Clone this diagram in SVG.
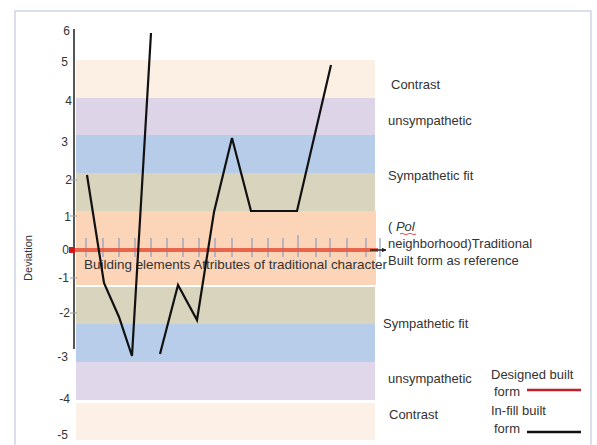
<svg xmlns="http://www.w3.org/2000/svg" width="597" height="445" viewBox="0 0 597 445">
<defs>
<style>
text{font-family:"Liberation Sans","Open Sans",sans-serif;fill:#333;}
.num{font-size:12px;text-anchor:end;}
.lbl{font-size:13px;}
.tick{stroke:#8a9cc4;stroke-width:1.2;}
.ink{fill:none;stroke:#111;stroke-width:2.2;stroke-linejoin:miter;}
</style>
<marker id="arr" viewBox="0 0 10 10" refX="9" refY="5" markerWidth="3" markerHeight="3" orient="auto"><path d="M0,0 L10,5 L0,10 z" fill="#222"/></marker>
</defs>
<rect width="597" height="445" fill="#fff"/>
<path d="M15,445 V11 H591 V445" fill="none" stroke="#cdd6e6" stroke-width="1.5"/>
<g id="bands">
<rect x="76" y="60" width="299" height="38" fill="#fcefe4"/>
<rect x="76" y="98" width="299" height="37" fill="#ddd4e8"/>
<rect x="76" y="135" width="299" height="38" fill="#b7cce8"/>
<rect x="76" y="173" width="299" height="38" fill="#d8d4be"/>
<rect x="76" y="211" width="300" height="74" fill="#fcd5b8"/>
<rect x="76" y="287" width="299" height="37" fill="#d8d4be"/>
<rect x="76" y="324" width="299" height="38" fill="#b7cde9"/>
<rect x="76" y="362" width="299" height="38" fill="#e0d7ea"/>
<rect x="76" y="403" width="299" height="37" fill="#fdf0e6"/>
</g>
<g id="yaxis">
<line x1="74" y1="29" x2="74" y2="349" stroke="#555" stroke-width="2"/>
<g stroke="#999" stroke-width="1">
<line x1="70" y1="180" x2="77" y2="180"/><line x1="70" y1="216" x2="77" y2="216"/><line x1="70" y1="278" x2="77" y2="278"/><line x1="70" y1="313" x2="77" y2="313"/>
</g>
<text class="num" x="70" y="35">6</text>
<text class="num" x="68" y="66">5</text>
<text class="num" x="72" y="105">4</text>
<text class="num" x="68" y="146">3</text>
<text class="num" x="72" y="184">2</text>
<text class="num" x="71" y="221">1</text>
<text class="num" x="69" y="254">0</text>
<text class="num" x="69" y="282">-1</text>
<text class="num" x="70" y="317">-2</text>
<text class="num" x="68" y="361">-3</text>
<text class="num" x="70" y="403">-4</text>
<text class="num" x="68" y="439">-5</text>
<text transform="translate(32,258) rotate(-90)" text-anchor="middle" font-size="11">Deviation</text>
</g>
<g id="xaxis">
<g class="tick">
<line x1="86" y1="238" x2="86" y2="257"/><line x1="103" y1="238" x2="103" y2="257"/><line x1="119" y1="238" x2="119" y2="257"/><line x1="135" y1="238" x2="135" y2="257"/><line x1="151" y1="238" x2="151" y2="257"/><line x1="167" y1="238" x2="167" y2="257"/><line x1="183" y1="238" x2="183" y2="257"/><line x1="199" y1="238" x2="199" y2="257"/><line x1="215" y1="238" x2="215" y2="257"/><line x1="232" y1="238" x2="232" y2="257"/><line x1="252" y1="238" x2="252" y2="257"/><line x1="268" y1="238" x2="268" y2="257"/><line x1="283" y1="238" x2="283" y2="257"/><line x1="298" y1="235" x2="298" y2="257"/><line x1="316" y1="238" x2="316" y2="257"/><line x1="330" y1="238" x2="330" y2="257"/><line x1="347" y1="238" x2="347" y2="257"/><line x1="366" y1="238" x2="366" y2="257"/><line x1="380" y1="238" x2="380" y2="257"/>
</g>
<line x1="70" y1="250" x2="378" y2="250" stroke="#e65a3f" stroke-width="4" stroke-opacity="0.9"/>
<line x1="370" y1="250" x2="386" y2="250" stroke="#222" stroke-width="1.5" marker-end="url(#arr)"/>
<rect x="69" y="247" width="6" height="6" fill="#d01818"/>
<text x="84" y="269" font-size="13" textLength="303" lengthAdjust="spacingAndGlyphs" fill="#4a3a2a">Building elements Attributes of traditional character</text>
</g>
<g id="connectors">
<polyline class="ink" points="87,175 104,283 119,317 132,356 151,33"/>
<polyline class="ink" points="160,354 178,285 197,320 214,212 232,138 251,211 297,211 331,65"/>
</g>
<g id="labels">
<text class="lbl" x="391" y="89">Contrast</text>
<text class="lbl" x="388" y="125">unsympathetic</text>
<text class="lbl" x="388" y="180">Sympathetic fit</text>
<text class="lbl" x="388" y="231">( <tspan font-style="italic">Pol</tspan></text>
<path d="M400,234 q2,-1.5 4,0 t4,0 t4,0 t4,0" fill="none" stroke="#d22" stroke-width="0.8"/>
<text class="lbl" x="388" y="248">neighborhood)Traditional</text>
<text class="lbl" x="388" y="265">Built form as reference</text>
<text class="lbl" x="383" y="328">Sympathetic fit</text>
<text class="lbl" x="388" y="383">unsympathetic</text>
<text class="lbl" x="389" y="419">Contrast</text>
</g>
<g id="legend">
<text class="lbl" x="491" y="379">Designed built</text>
<text class="lbl" x="494" y="396">form</text>
<line x1="527" y1="390" x2="581" y2="390" stroke="#c0202a" stroke-width="2.5"/>
<text class="lbl" x="491" y="415">In-fill built</text>
<text class="lbl" x="494" y="433">form</text>
<line x1="527" y1="432" x2="581" y2="432" stroke="#111" stroke-width="2.5"/>
</g>
</svg>
